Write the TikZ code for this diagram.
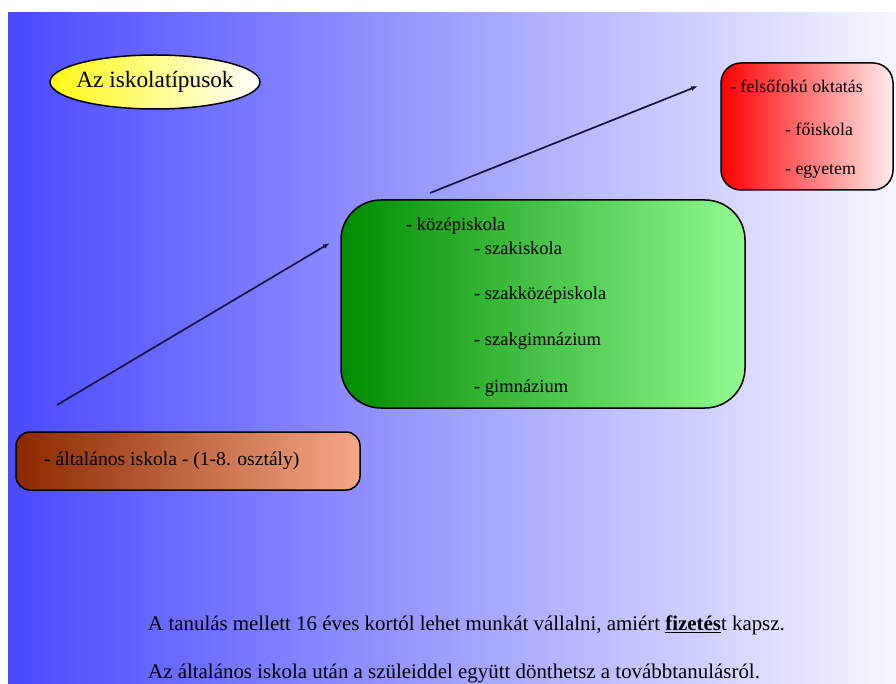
\documentclass[tikz,border=0pt]{standalone}
\usepackage{fontspec}
\setmainfont{Liberation Serif}
\usetikzlibrary{positioning,calc,arrows.meta,shapes.geometric}
\definecolor{bgleft}{RGB}{74,74,255}
\definecolor{bgright}{RGB}{246,246,255}
\definecolor{titleyellow}{RGB}{255,250,20}
\definecolor{redleft}{RGB}{255,0,0}
\definecolor{redright}{RGB}{255,236,236}
\definecolor{greenleft}{RGB}{0,140,0}
\definecolor{greenright}{RGB}{145,250,145}
\definecolor{brownleft}{RGB}{140,40,0}
\definecolor{brownright}{RGB}{246,168,134}
\definecolor{arrowblue}{RGB}{20,20,60}

\begin{document}
\begin{tikzpicture}[x=1pt, y=-1pt,
		box/.style={draw=black, line width=1.5pt, inner sep=0pt},
		item/.style={anchor=west, inner sep=0pt, text=black},
		note/.style={anchor=west, inner sep=0pt, font=\fontsize{20.9}{24}\selectfont},
		link/.style={->, draw=arrowblue, line width=1.7pt},
		>={Latex[length=7pt,width=5pt]}
		]
		
		\useasboundingbox (0,0) rectangle (896,684);
		\shade[left color=bgleft, right color=bgright] (8,13) rectangle (896,684);
		
		\node[ellipse, box, inner sep=-5pt, left color=titleyellow, right color=white, minimum width=210pt, minimum height=54pt,
			font=\fontsize{23.3}{27}\selectfont] (title) at (155,82) {Az iskolatípusok};
		
		\node[box, rounded corners=20pt, left color=redleft, right color=redright,
			minimum width=172pt, minimum height=127pt] (felso) at (807,126.5) {};
		\node[item, font=\fontsize{17.8}{20}\selectfont] (f1) at (730,86) {- felsőfokú oktatás};
		\node[item, font=\fontsize{17.8}{20}\selectfont] (f2) at (785,129) {- főiskola};
		\node[item, font=\fontsize{17.8}{20}\selectfont] (f3) at (785,171) {- egyetem};
		
		\node[box, rounded corners=40pt, left color=greenleft, right color=greenright,
			minimum width=404pt, minimum height=208pt] (kozep) at (543,304) {};
		\node[item, font=\fontsize{18.5}{22}\selectfont] (k0) at (406,226) {- középiskola};
		\foreach \i [count=\step from 1] in {szakiskola,szakközépiskola,szakgimnázium,gimnázium}
		\node[item, font=\fontsize{18.5}{22}\selectfont] (k\step) at (474,{248+46.7*(\step-1)}) {- \i};
		
		\node[box, rounded corners=14pt, left color=brownleft, right color=brownright,
			minimum width=344pt, minimum height=58pt] (altalanos) at (188,461) {};
		\node[item, font=\fontsize{19.6}{22}\selectfont] (a1) at (44,461) {- általános iskola - (1-8. osztály)};
		
		\coordinate (s1) at (57,405);
		\coordinate (e1) at (330,243);
		\coordinate (s2) at (430,193);
		\coordinate (e2) at (698,86);
		\draw[link] (s1) to (e1);
		\draw[link] (s2) to (e2);
		
		\node[note] (n1) at (148,625) {A tanulás mellett 16 éves kortól lehet munkát vállalni, amiért \underline{\textbf{fizetés}}t kapsz.};
		\node[note] (n2) at (148,673) {Az általános iskola után a szüleiddel együtt dönthetsz a továbbtanulásról.};
		
\end{tikzpicture}
\end{document}
